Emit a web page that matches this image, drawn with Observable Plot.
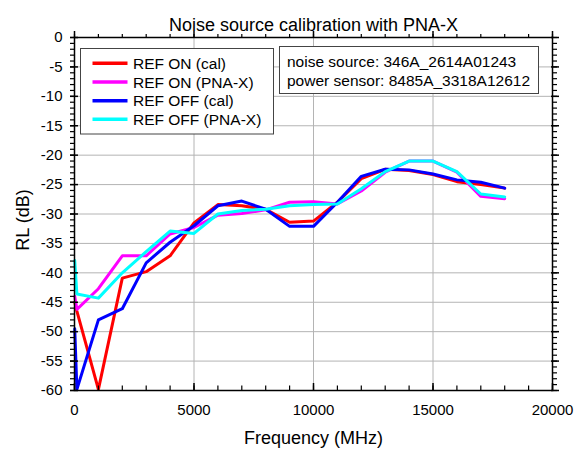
<!DOCTYPE html>
<html><head><meta charset="utf-8">
<script src="https://cdn.jsdelivr.net/npm/d3@7"></script>
<script src="https://cdn.jsdelivr.net/npm/@observablehq/plot@0.6"></script>
<style>
body{margin:0;background:#fff;}
#chart{position:relative;width:587px;height:450px;}
</style>
</head><body><div id="chart"></div>
<script>
const titleText = "Noise source calibration with PNA-X";
const xLabel = "Frequency (MHz)";
const yLabel = "RL (dB)";
const freq = [10, 100, 1000, 2000, 3000, 4000, 5000, 6000, 7000, 8000, 9000, 10000, 11000, 12000, 13000, 14000, 15000, 16000, 17000, 18000];
const refOnCal  = [-45.0, -46.5, -59.8, -40.9, -39.8, -37.1, -31.5, -28.4, -28.6, -29.2, -31.4, -31.2, -28.0, -24.0, -22.4, -22.6, -23.3, -24.5, -25.0, -25.6];
const refOnPna  = [-44.0, -46.2, -42.7, -37.1, -37.1, -33.4, -32.3, -30.2, -29.9, -29.3, -28.0, -27.9, -28.3, -26.1, -22.9, -21.0, -21.0, -22.9, -27.0, -27.4];
const refOffCal = [-49.5, -59.8, -48.0, -46.1, -38.3, -34.8, -32.0, -28.6, -27.8, -29.2, -32.1, -32.1, -28.0, -23.6, -22.4, -22.5, -23.2, -24.2, -24.6, -25.6];
const refOffPna = [-37.9, -43.6, -44.3, -40.0, -36.4, -32.9, -33.3, -30.0, -29.4, -29.2, -28.6, -28.4, -28.3, -25.7, -22.8, -21.0, -21.0, -22.8, -26.6, -27.1];
const seriesNames = ["REF ON (cal)", "REF ON (PNA-X)", "REF OFF (cal)", "REF OFF (PNA-X)"];
const seriesColors = ["#ff0000", "#ff00ff", "#0000ff", "#00ffff"];
const seriesValues = [refOnCal, refOnPna, refOffCal, refOffPna];
const xTicks = [0, 5000, 10000, 15000, 20000];
const xMinorTicks = d3.range(0, 20001, 1000);
const yTicks = d3.range(0, -61, -5);
const yMinorTicks = d3.range(0, -61, -1);
const xGrid = [5000, 10000, 15000];
const yGrid = d3.range(-5, -60, -5);
const infoLines = ["noise source: 346A_2614A01243", "power sensor: 8485A_3318A12612"];

const seriesData = seriesNames.map((name, i) => freq.map((f, j) => ({series: name, freq: f, value: seriesValues[i][j]})));

const font = "Liberation Sans, Arial, sans-serif";

const plot = Plot.plot({
  width: 587,
  height: 450,
  marginLeft: 74,
  marginRight: 35,
  marginTop: 37,
  marginBottom: 60,
  style: {fontFamily: font, background: "#fff", color: "#000"},
  x: {domain: [0, 20000], label: null},
  y: {domain: [-60, 0], label: null},
  color: {domain: seriesNames, range: seriesColors},
  marks: [
    Plot.gridX(xGrid, {stroke: "#b4b4b4", strokeOpacity: 1, strokeWidth: 1}),
    Plot.gridY(yGrid, {stroke: "#b4b4b4", strokeOpacity: 1, strokeWidth: 1}),
    ...seriesData.map(d => Plot.line(d, {x: "freq", y: "value", stroke: "series", strokeWidth: 3})),
    Plot.frame({stroke: "#000", strokeWidth: 1.5}),
    // bottom ticks (inward)
    Plot.axisX({anchor: "bottom", ticks: xMinorTicks, tickSize: 4.5, dy: -4.5, text: null, label: null, strokeWidth: 1.2}),
    Plot.axisX({anchor: "bottom", ticks: xTicks, tickSize: 7, dy: -7, text: null, label: null, strokeWidth: 1.5}),
    Plot.axisX({anchor: "bottom", ticks: xTicks, tickSize: 0, tickPadding: 14, fontSize: 15, tickFormat: d => String(d), label: null}),
    // top ticks (outward)
    Plot.axisX({anchor: "top", ticks: xMinorTicks, tickSize: 4, text: null, label: null, strokeWidth: 1.2}),
    Plot.axisX({anchor: "top", ticks: xTicks, tickSize: 7, text: null, label: null, strokeWidth: 1.5}),
    // left ticks
    Plot.axisY({anchor: "left", ticks: yMinorTicks, tickSize: 4, text: null, label: null, strokeWidth: 1.2}),
    Plot.axisY({anchor: "left", ticks: yTicks, tickSize: 8, dx: 4, text: null, label: null, strokeWidth: 1.5}),
    Plot.axisY({anchor: "left", ticks: yTicks, tickSize: 0, tickPadding: 12, fontSize: 15, tickFormat: d => String(d), label: null}),
    // right ticks
    Plot.axisY({anchor: "right", ticks: yMinorTicks, tickSize: 4, text: null, label: null, strokeWidth: 1.2}),
    Plot.axisY({anchor: "right", ticks: yTicks, tickSize: 8, dx: -2, text: null, label: null, strokeWidth: 1.5}),
    // titles
    Plot.text([titleText], {frameAnchor: "top", dy: -7, lineAnchor: "bottom", fontSize: 18, fill: "#000"}),
    Plot.text([xLabel], {frameAnchor: "bottom", dy: 53, lineAnchor: "bottom", fontSize: 18, fill: "#000"})
  ]
});

document.getElementById("chart").appendChild(plot);

const svg = d3.select(plot);
// y-axis title
svg.append("text")
  .attr("transform", "translate(23,220) rotate(-90)")
  .attr("text-anchor", "middle").attr("dy", "0.36em")
  .attr("font-family", font).attr("font-size", 18).attr("fill", "#000")
  .text(yLabel);

// legend box
const lg = svg.append("g").attr("font-family", font).attr("font-size", 15.5).attr("text-anchor", "start");
lg.append("rect").attr("x", 80.5).attr("y", 48.5).attr("width", 193).attr("height", 85.5)
  .attr("fill", "#fff").attr("stroke", "#444").attr("stroke-width", 1);
const rowY = [63.3, 82, 100.7, 119.3];
seriesNames.forEach((name, i) => {
  lg.append("line").attr("x1", 92.5).attr("x2", 127.5).attr("y1", rowY[i]).attr("y2", rowY[i])
    .attr("stroke", seriesColors[i]).attr("stroke-width", 3.5);
  lg.append("text").attr("x", 133).attr("y", rowY[i]).attr("dy", "0.36em")
    .attr("text-anchor", "start").attr("fill", "#000").text(name);
});
// info box
const ib = svg.append("g").attr("font-family", font).attr("font-size", 15.5).attr("text-anchor", "start");
ib.append("rect").attr("x", 279.5).attr("y", 46.5).attr("width", 259).attr("height", 47)
  .attr("fill", "#fff").attr("stroke", "#444").attr("stroke-width", 1);
const infoY = [61.7, 80.7];
infoLines.forEach((t, i) => {
  ib.append("text").attr("x", 287).attr("y", infoY[i]).attr("dy", "0.36em")
    .attr("text-anchor", "start").attr("fill", "#000").text(t);
});
</script>
</body></html>
